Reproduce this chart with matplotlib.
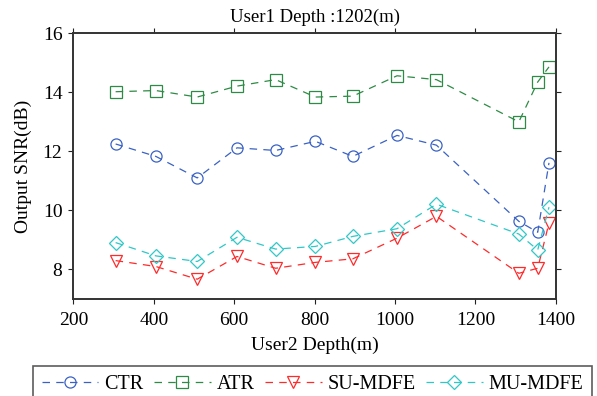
import matplotlib
matplotlib.use("Agg")
import matplotlib.pyplot as plt

plt.rcParams['font.family'] = ['Liberation Serif', 'DejaVu Serif']

depth = [305, 405, 508, 607, 703, 802, 895, 1005, 1103, 1308, 1355, 1383]
ctr = [12.25, 11.83, 11.10, 12.12, 12.03, 12.34, 11.83, 12.54, 12.21, 9.63, 9.26, 11.61]
atr = [14.02, 14.06, 13.84, 14.21, 14.43, 13.84, 13.87, 14.56, 14.43, 13.0, 14.35, 14.86]
su_mdfe = [8.30, 8.10, 7.67, 8.44, 8.04, 8.24, 8.36, 9.06, 9.80, 7.87, 8.04, 9.57]
mu_mdfe = [8.91, 8.46, 8.27, 9.09, 8.69, 8.78, 9.12, 9.38, 10.21, 9.20, 8.66, 10.11]
xticks = [200, 400, 600, 800, 1000, 1200, 1400]
yticks = [8, 10, 12, 14, 16]

fig = plt.figure(figsize=(5.97, 3.96), dpi=100)
ax = fig.add_axes([0.123, 0.245, 0.808, 0.671])

series = [
    (ctr, 'CTR', '#3a62c4', 'o', 8),
    (atr, 'ATR', '#2e8b45', 's', 8),
    (su_mdfe, 'SU-MDFE', '#ff2a2a', 'v', 8.5),
    (mu_mdfe, 'MU-MDFE', '#2ec8c8', 'D', 7),
]
handles = []
for ys, lab, col, mk, ms in series:
    h, = ax.plot(depth, ys, linestyle=(0, (6, 5)), color=col, lw=0.9,
                 marker=mk, markersize=ms, markerfacecolor='none',
                 markeredgecolor=col, markeredgewidth=0.9, label=lab)
    handles.append(h)

ax.set_xlim(200, 1400)
ax.set_ylim(7, 16)
ax.set_xticks(xticks)
ax.set_yticks(yticks)
ax.tick_params(direction='out', top=True, right=True, labelsize=14, length=3.6,
               width=0.8, colors='#222222', labelcolor='black')
ax.tick_params(axis='x', pad=6)
ax.tick_params(axis='y', pad=4.3)
for s in ax.spines.values():
    s.set_linewidth(1.4)
    s.set_color('#333333')
ax.set_xlabel('User2 Depth(m)', fontsize=14, labelpad=5)
ax.set_ylabel('Output SNR(dB)', fontsize=14, labelpad=8)
ax.set_title('User1 Depth :1202(m)', fontsize=13.5, pad=8)

leg = fig.legend(handles=handles, loc='upper left',
                 bbox_to_anchor=(33 / 597, 1 - 366 / 396),
                 ncol=4, fontsize=14.5, frameon=True, fancybox=False,
                 handlelength=2.8, columnspacing=0.52, handletextpad=0.3,
                 borderpad=0.45, borderaxespad=0)
leg.get_frame().set_edgecolor('#333333')
leg.get_frame().set_linewidth(1.2)

fig.savefig('out.png', dpi=100)
